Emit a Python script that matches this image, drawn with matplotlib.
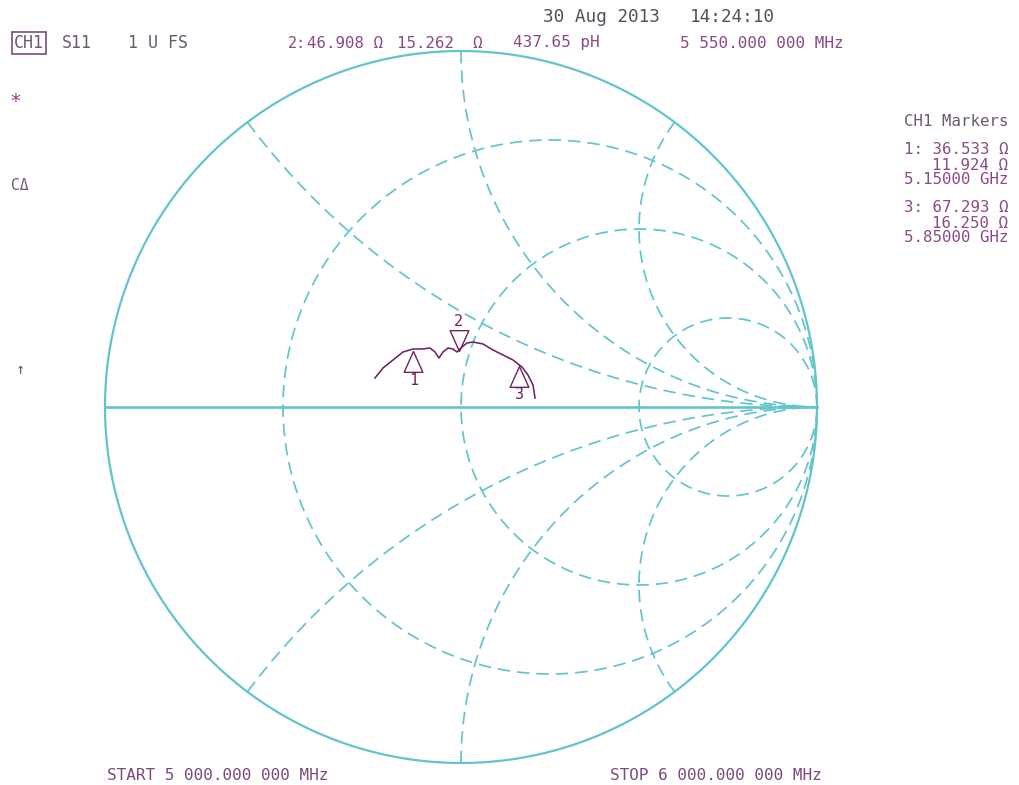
import numpy as np
import matplotlib

matplotlib.use("Agg")

import matplotlib.pyplot as plt
from matplotlib.path import Path

plt.rcParams["font.family"] = ["DejaVu Sans Mono", "DejaVu Sans"]
plt.rcParams["lines.scale_dashes"] = False

# grid values of the Smith chart
r_circles = [1 / 3, 1.0, 3.0]
x_arcs = [0.5, 1.0, 2.0, -0.5, -1.0, -2.0]

# S11 trace, reflection coefficient
trace_re = [-0.2416, -0.2191, -0.1910, -0.1629, -0.1348, -0.1096, -0.0871, -0.0730,
            -0.0618, -0.0506, -0.0365, -0.0225, -0.0112, 0.0028, 0.0169, 0.0337,
            0.0618, 0.0899, 0.1180, 0.1461, 0.1713, 0.1882, 0.2022, 0.2079]
trace_im = [0.0815, 0.1096, 0.1320, 0.1545, 0.1629, 0.1629, 0.1657, 0.1545,
            0.1376, 0.1545, 0.1657, 0.1629, 0.1545, 0.1685, 0.1798, 0.1826,
            0.1770, 0.1601, 0.1461, 0.1320, 0.1124, 0.0899, 0.0618, 0.0253]

# markers: number, R, X (ohm), frequency
marker_ids = [1, 2, 3]
marker_r = [36.533, 46.908, 67.293]
marker_x = [11.924, 15.262, 16.250]
marker_f = ["5.15000 GHz", "5.55000 GHz", "5.85000 GHz"]
z0 = 50.0

W, H = 1019, 785
CX, CY, RAD = 461, 407, 356

GRID = "#62c4ce"
TRACE = "#6e2462"
MAUVE = "#8a4a86"
GREY = "#6a5a70"

fig = plt.figure(figsize=(W / 100, H / 100), dpi=100)
ax = fig.add_axes([0, 0, 1, 1])
ax.set_xlim(-CX / RAD, (W - CX) / RAD)
ax.set_ylim((CY - H) / RAD, CY / RAD)
ax.axis("off")

t = np.linspace(0, 2 * np.pi, 721)
ax.plot(np.cos(t), np.sin(t), color=GRID, lw=1.6, zorder=2)
ax.plot([-1, 1], [0, 0], color=GRID, lw=1.9, zorder=2)

dash = (0, (9, 5))
for r in r_circles:
    c, rr = r / (1 + r), 1 / (1 + r)
    ax.plot(c + rr * np.cos(t), rr * np.sin(t), color=GRID, lw=1.25, ls=dash, zorder=1)

rs = np.concatenate([[0.0], np.logspace(-3, 3, 600)])
for x in x_arcs:
    z = rs + 1j * x
    g = (z - 1) / (z + 1)
    ax.plot(g.real, g.imag, color=GRID, lw=1.25, ls=dash, zorder=1)

ax.plot(trace_re, trace_im, color=TRACE, lw=1.15, zorder=4)

up_tri = Path([(0, 0), (-0.45, -1), (0.45, -1), (0, 0)],
              [Path.MOVETO, Path.LINETO, Path.LINETO, Path.CLOSEPOLY])
down_tri = Path([(0, 0), (-0.45, 1), (0.45, 1), (0, 0)],
                [Path.MOVETO, Path.LINETO, Path.LINETO, Path.CLOSEPOLY])
for mid, r, x in zip(marker_ids, marker_r, marker_x):
    z = (r + 1j * x) / z0
    g = (z - 1) / (z + 1)
    if mid == 2:
        ax.plot(g.real, g.imag, marker=down_tri, ms=30, mfc="none", mec=TRACE, mew=1.0, zorder=5)
        ax.annotate(str(mid), (g.real, g.imag), xytext=(0, 21), textcoords="offset points",
                    ha="center", va="center", color=TRACE, fontsize=11)
    else:
        ax.plot(g.real, g.imag, marker=up_tri, ms=30, mfc="none", mec=TRACE, mew=1.0, zorder=5)
        ax.annotate(str(mid), (g.real, g.imag), xytext=(0, -21), textcoords="offset points",
                    ha="center", va="center", color=TRACE, fontsize=11)


def ftext(px, py, s, **kw):
    kw.setdefault("va", "center")
    return fig.text(px / W, 1 - py / H, s, **kw)


ftext(543, 17, "30 Aug 2013", color="#5a4e5e", fontsize=12.8)
ftext(690, 17, "14:24:10", color="#5a4e5e", fontsize=12.8)

ftext(14, 43, "CH1", color=GREY, fontsize=12,
      bbox=dict(boxstyle="square,pad=0.12", fc="none", ec="#7a4a7a", lw=1.2))
ftext(62, 43, "S11", color=GREY, fontsize=12)
ftext(128, 43, "1 U FS", color=GREY, fontsize=12)

ftext(288, 43, "2:", color=MAUVE, fontsize=11)
ftext(307, 43, f"{marker_r[1]:.3f} Ω", color=MAUVE, fontsize=11.3)
ftext(397, 43, f"{marker_x[1]:.3f}  Ω", color=MAUVE, fontsize=11.3)
ftext(513, 43, "437.65 pH", color=MAUVE, fontsize=11.5)
ftext(680, 43, "5 550.000 000 MHz", color=MAUVE, fontsize=11.5)

ftext(1008, 122, "CH1 Markers", color=GREY, fontsize=11.3, ha="right")
rows = [150, 208]
for row, i in zip(rows, [0, 2]):
    ftext(1008, row, f"{marker_ids[i]}: {marker_r[i]:.3f} Ω", color=MAUVE, fontsize=11.3, ha="right")
    ftext(1008, row + 15, f"{marker_x[i]:.3f} Ω", color=MAUVE, fontsize=11.3, ha="right")
    ftext(1008, row + 30, marker_f[i], color=MAUVE, fontsize=11.3, ha="right")

ftext(9, 102, "*", color="#9a3a8a", fontsize=14)
ftext(11, 185, "CΔ", color=GREY, fontsize=10.5)
ftext(16, 370, "↑", color=GREY, fontsize=11)

ftext(107, 775, "START 5 000.000 000 MHz", color="#7a4a7a", fontsize=11.5)
ftext(610, 775, "STOP 6 000.000 000 MHz", color="#7a4a7a", fontsize=11.5)

fig.savefig("out.png", dpi=100, facecolor="white")
plt.close(fig)
